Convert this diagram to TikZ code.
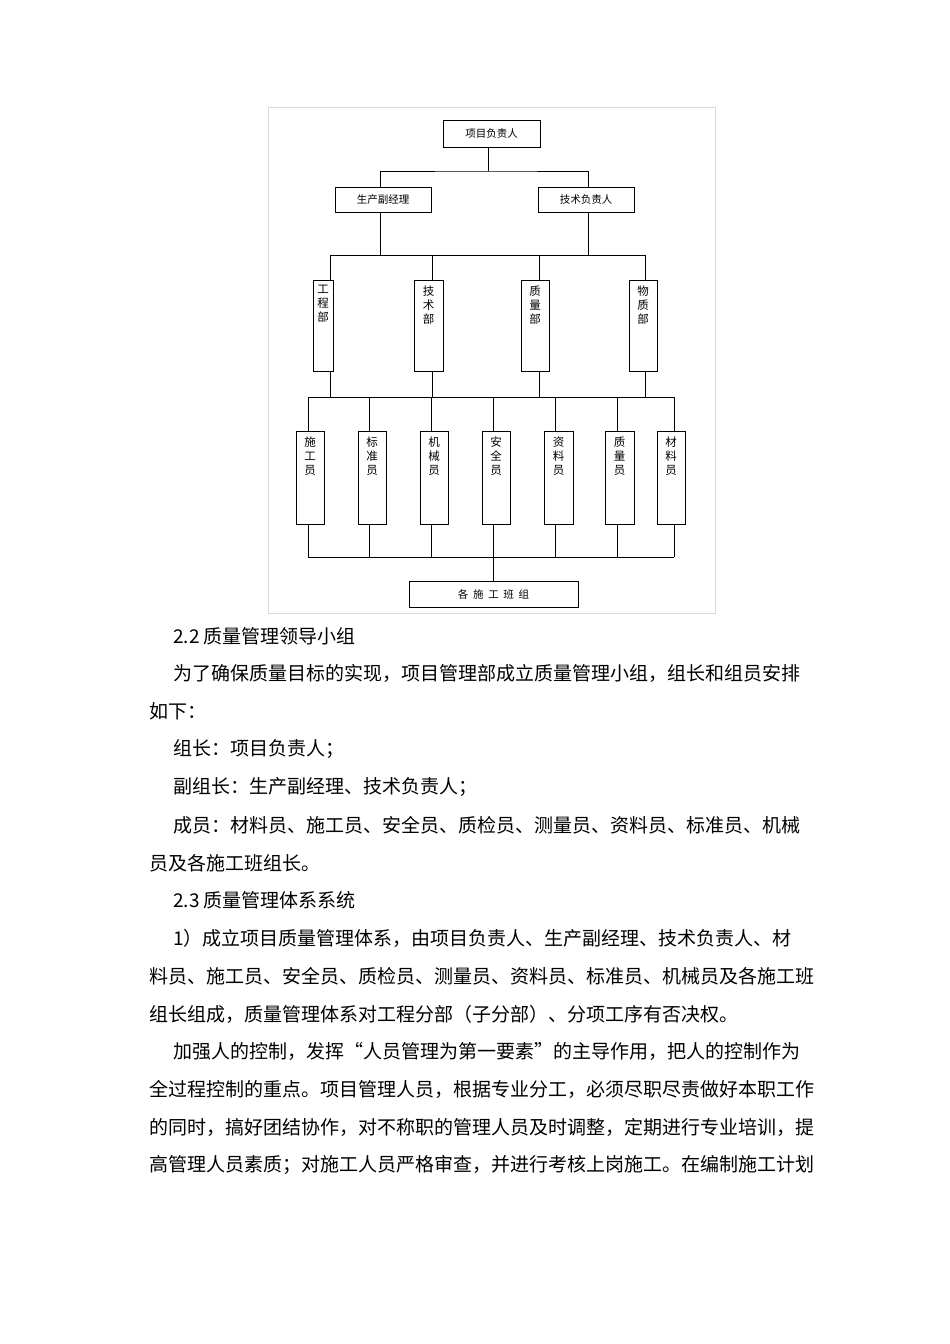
\documentclass[tikz,border=0pt]{standalone}
\usepackage{fontspec}
\newfontfamily\cjk{Noto Sans CJK SC}
\begin{document}
\begin{tikzpicture}[x=1pt,y=-1pt,
  bx/.style={draw,line width=0.8pt,inner sep=0pt},
  ln/.style={line width=0.8pt},
  lbl/.style={font=\cjk\fontsize{10.5}{12}\selectfont},
  vt/.style={font=\cjk\fontsize{11.5}{14}\selectfont,align=center,anchor=north},
  body/.style={font=\cjk\fontsize{19}{20}\selectfont,anchor=west,inner sep=0pt}]
\useasboundingbox (0,0) rectangle (950,1344);
\draw[gray!30] (268,107) rectangle (715,613);
% top
\node[bx,minimum width=97,minimum height=27,lbl] (top) at (491.5,133.5) {项目负责人};
\node[bx,minimum width=96,minimum height=25,lbl] (m1) at (383,199.5) {生产副经理};
\node[bx,minimum width=96,minimum height=25,lbl] (m2) at (586,199.5) {技术负责人};
\coordinate (j1) at (488,171);
\draw[ln] (top.south -| j1) -- (j1);
\draw[ln] (380,187) |- (j1) -| (588,187);
% depts
\foreach \n/\xa/\xb/\t in {d1/313/333/工\\程\\部, d2/414/443/技\\术\\部, d3/521/549/质\\量\\部, d4/629/657/物\\质\\部}{
  \draw[bx] (\xa,280) rectangle (\xb,371);
  \node[vt] (\n) at ({(\xa+\xb)/2},282) {\t};
}
\draw[ln] (380,212) -- (380,255);
\draw[ln] (588,212) -- (588,255);
\draw[ln] (330,280) |- (645,255) -- (645,280);
\draw[ln] (432,255) -- (432,280);
\draw[ln] (539,255) -- (539,280);
\foreach \x in {330,432,539,645}{\draw[ln] (\x,371) -- (\x,397);}
% staff
\foreach \n/\xa/\xb/\c/\t in {s1/296/324/308/施\\工\\员, s2/358/386/369/标\\准\\员, s3/420/448/431/机\\械\\员, s4/482/510/493/安\\全\\员, s5/544/573/555/资\\料\\员, s6/605/634/617/质\\量\\员, s7/657/685/674/材\\料\\员}{
  \draw[bx] (\xa,431) rectangle (\xb,524);
  \node[vt] (\n) at ({(\xa+\xb)/2},433) {\t};
  \draw[ln] (\c,397) -- (\c,431);
  \draw[ln] (\c,524) -- (\c,557);
}
\draw[ln] (308,397) -- (674,397);
\draw[ln] (308,557) -- (674,557);
\node[bx,minimum width=169,minimum height=26,lbl] (bot) at (493.5,594) {各\ \ 施\ \ 工\ \ 班\ \ 组};
\draw[ln] (493,557) -- (bot.north -| 493,0);
% body text
\foreach \k/\xx/\t in {
0/173/{2.2 质量管理领导小组},
1/173/{为了确保质量目标的实现，项目管理部成立质量管理小组，组长和组员安排},
2/149/{如下：},
3/173/{组长：项目负责人；},
4/173/{副组长：生产副经理、技术负责人；},
5/173/{成员：材料员、施工员、安全员、质检员、测量员、资料员、标准员、机械},
6/149/{员及各施工班组长。},
7/173/{2.3 质量管理体系系统},
8/173/{1）成立项目质量管理体系，由项目负责人、生产副经理、技术负责人、材},
9/149/{料员、施工员、安全员、质检员、测量员、资料员、标准员、机械员及各施工班},
10/149/{组长组成，质量管理体系对工程分部（子分部）、分项工序有否决权。},
11/173/{加强人的控制，发挥“人员管理为第一要素”的主导作用，把人的控制作为},
12/149/{全过程控制的重点。项目管理人员，根据专业分工，必须尽职尽责做好本职工作},
13/149/{的同时，搞好团结协作，对不称职的管理人员及时调整，定期进行专业培训，提},
14/149/{高管理人员素质；对施工人员严格审查，并进行考核上岗施工。在编制施工计划}}{
  \node[body] (t\k) at (\xx,{636+\k*37.8}) {\t};
}
\end{tikzpicture}
\end{document}
